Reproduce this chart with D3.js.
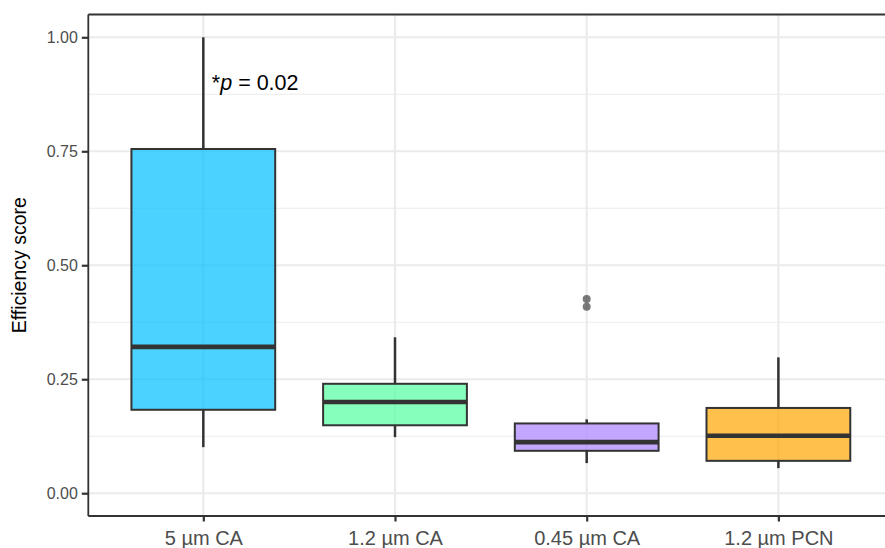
<!DOCTYPE html>
<html>
<head>
<meta charset="utf-8">
<script src="https://cdn.jsdelivr.net/npm/d3@7"></script>
<style>
  html, body { margin: 0; padding: 0; background: #fff; }
  svg { display: block; font-family: "Liberation Sans", Arial, Helvetica, sans-serif; }
</style>
</head>
<body>
<svg id="chart" width="885" height="548"></svg>
<script>
// Filter types and their efficiency score distributions (box-plot summaries)
const categories = ["5 µm CA", "1.2 µm CA", "0.45 µm CA", "1.2 µm PCN"];
const whiskerLow  = [0.101, 0.123, 0.066, 0.055];
const q1          = [0.183, 0.149, 0.093, 0.071];
const medians     = [0.321, 0.200, 0.112, 0.126];
const q3          = [0.755, 0.240, 0.153, 0.187];
const whiskerHigh = [1.000, 0.342, 0.162, 0.298];
const outliers    = [[], [], [0.426, 0.409], []];
const fills       = ["#00BFFF", "#54FF9F", "#AB82FF", "#FFA500"];
const yTicks      = [0, 0.25, 0.5, 0.75, 1];
const yMinor      = [0.125, 0.375, 0.625, 0.875];
const yLabel      = "Efficiency score";

const boxes = categories.map((c, i) => ({
  cat: c, idx: i + 1, lo: whiskerLow[i], q1: q1[i], med: medians[i],
  q3: q3[i], hi: whiskerHigh[i], out: outliers[i], fill: fills[i]
}));

const svg = d3.select("#chart");
const pLeft = 88.3, pRight = 893.4, pTop = 14.5, pBottom = 516;

// discrete positions 1..n with 0.6 unit padding on either side
const x = d3.scaleLinear().domain([0.4, 4.6]).range([pLeft, pRight]);
const y = d3.scaleLinear().domain([-0.05, 1.05]).range([pBottom, pTop]);

const grid = svg.append("g");
grid.selectAll("line.minor").data(yMinor).join("line")
  .attr("x1", pLeft).attr("x2", pRight)
  .attr("y1", d => y(d)).attr("y2", d => y(d))
  .attr("stroke", "#ebebeb").attr("stroke-width", 1.1);
grid.selectAll("line.major").data(yTicks).join("line")
  .attr("x1", pLeft).attr("x2", pRight)
  .attr("y1", d => y(d)).attr("y2", d => y(d))
  .attr("stroke", "#ebebeb").attr("stroke-width", 2.1);
grid.selectAll("line.vert").data(boxes).join("line")
  .attr("x1", d => x(d.idx)).attr("x2", d => x(d.idx))
  .attr("y1", pTop).attr("y2", pBottom)
  .attr("stroke", "#ebebeb").attr("stroke-width", 2.1);

const halfW = 0.375;
const g = svg.append("g");

// whiskers
g.selectAll("line.wh").data(boxes).join("line")
  .attr("x1", d => x(d.idx)).attr("x2", d => x(d.idx))
  .attr("y1", d => y(d.hi)).attr("y2", d => y(d.q3))
  .attr("stroke", "#333").attr("stroke-width", 2.5);
g.selectAll("line.wl").data(boxes).join("line")
  .attr("x1", d => x(d.idx)).attr("x2", d => x(d.idx))
  .attr("y1", d => y(d.q1)).attr("y2", d => y(d.lo))
  .attr("stroke", "#333").attr("stroke-width", 2.5);

// boxes
g.selectAll("rect.box").data(boxes).join("rect")
  .attr("x", d => x(d.idx - halfW))
  .attr("width", d => x(d.idx + halfW) - x(d.idx - halfW))
  .attr("y", d => y(d.q3))
  .attr("height", d => y(d.q1) - y(d.q3))
  .attr("fill", d => d.fill).attr("fill-opacity", 0.7)
  .attr("stroke", "#333").attr("stroke-width", 2);

// medians
g.selectAll("line.med").data(boxes).join("line")
  .attr("x1", d => x(d.idx - halfW)).attr("x2", d => x(d.idx + halfW))
  .attr("y1", d => y(d.med)).attr("y2", d => y(d.med))
  .attr("stroke", "#333").attr("stroke-width", 4.6);

// outliers
const outPts = boxes.flatMap(d => d.out.map(v => ({ idx: d.idx, v })));
g.selectAll("circle.out").data(outPts).join("circle")
  .attr("cx", d => x(d.idx)).attr("cy", d => y(d.v)).attr("r", 4)
  .attr("fill", "#333").attr("fill-opacity", 0.65);

// panel border (top) and axes
svg.append("line").attr("x1", pLeft).attr("x2", pRight).attr("y1", pTop).attr("y2", pTop)
  .attr("stroke", "#333").attr("stroke-width", 1.8);

const yAxis = d3.axisLeft(y).tickValues(yTicks).tickFormat(d3.format(".2f"))
  .tickSize(6.5).tickPadding(4);
const ya = svg.append("g").attr("transform", `translate(${pLeft},0)`).call(yAxis);
ya.attr("font-size", null).attr("font-family", null);
ya.select(".domain").attr("stroke", "#333").attr("stroke-width", 1.8)
  .attr("d", `M0,${pTop}V${pBottom}`);
ya.selectAll(".tick line").attr("stroke", "#333").attr("stroke-width", 2.2);
ya.selectAll(".tick text").attr("fill", "#4d4d4d").style("font-size", "16px");

const xAxis = d3.axisBottom(x).tickValues(boxes.map(d => d.idx))
  .tickFormat(i => categories[i - 1]).tickSize(5.5).tickPadding(4);
const xa = svg.append("g").attr("transform", `translate(0,${pBottom})`).call(xAxis);
xa.attr("font-size", null).attr("font-family", null);
xa.select(".domain").attr("stroke", "#333").attr("stroke-width", 1.8)
  .attr("d", `M${pLeft},0H${pRight}`);
xa.selectAll(".tick line").attr("stroke", "#333").attr("stroke-width", 2.2);
xa.selectAll(".tick text").attr("fill", "#4d4d4d").style("font-size", "20px")
  .attr("dy", null).attr("y", 28.5);

// y-axis title
svg.append("text")
  .attr("transform", `translate(26,${(pTop + pBottom) / 2}) rotate(-90)`)
  .attr("text-anchor", "middle")
  .style("font-size", "19.5px").attr("fill", "#000")
  .text(yLabel);

// significance annotation
const ann = svg.append("text")
  .attr("x", x(1) + 8.5).attr("y", y(0.9))
  .attr("dy", "0.35em")
  .style("font-size", "21.5px").attr("fill", "#000");
ann.append("tspan").text("*");
ann.append("tspan").attr("font-style", "italic").text("p");
ann.append("tspan").text(" = 0.02");
</script>
</body>
</html>
